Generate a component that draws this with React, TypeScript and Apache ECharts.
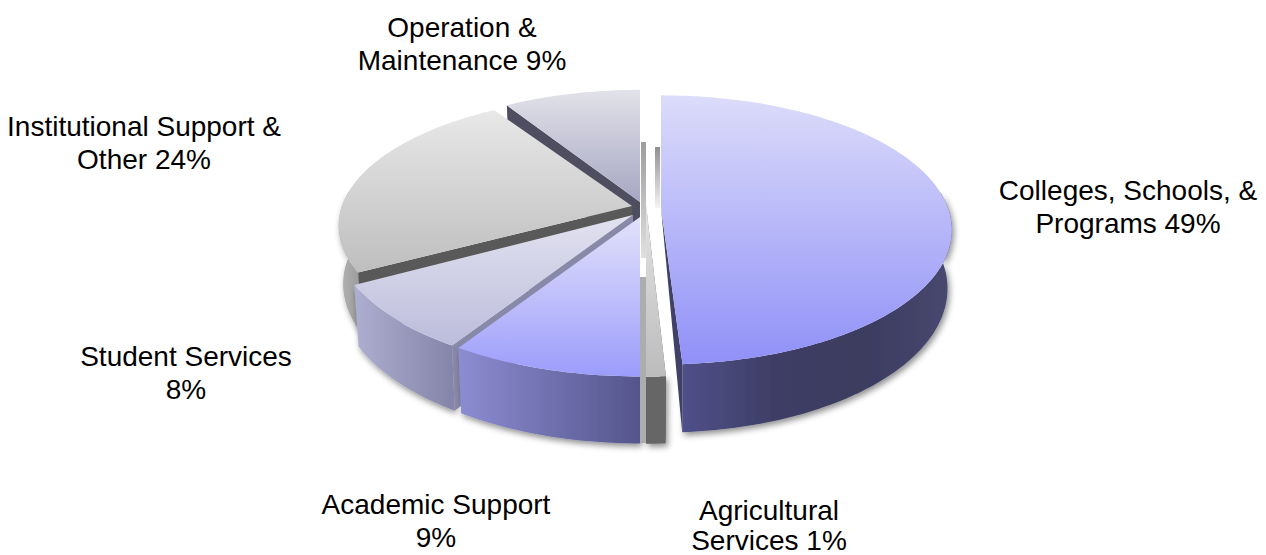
import React, { useEffect, useRef } from "react";
import * as echarts from "echarts";

// ---- data ----
const categories = [
  "Colleges, Schools, & Programs",
  "Agricultural Services",
  "Academic Support",
  "Student Services",
  "Institutional Support & Other",
  "Operation & Maintenance",
];
const percentages = [49, 1, 9, 8, 24, 9];
const labelTexts = [
  "Colleges, Schools, &\nPrograms 49%",
  "Agricultural\nServices 1%",
  "Academic Support\n9%",
  "Student Services\n8%",
  "Institutional Support &\nOther 24%",
  "Operation &\nMaintenance 9%",
];

// ---- layout & style ----
const labelX = [1128, 769, 436, 186, 144, 462];
const labelY = [174, 495, 488, 340, 110, 11];
const labelLineHeight = [33, 30, 33, 33, 33, 33];

const grad = (horizontal: boolean, ...colors: string[]) => ({
  type: "linear",
  x: 0,
  y: 0,
  x2: horizontal ? 1 : 0,
  y2: horizontal ? 0 : 1,
  colorStops: colors.map((color, i) => ({ offset: i / (colors.length - 1), color })),
});

const geometry = [
  { ax: 661, ay: 208, R: 287, Ry: 131, k: 0.163, D: 57, order: 5, top: grad(false, "#dcdcfa", "#9090f8"), wall: grad(true, "#50508a", "#3e3e66", "#3c3c60", "#484870"), radial: "#404068", radialAt: 1, apexDrop: 0 },
  { ax: 646, ay: 205, R: 270, Ry: 146, k: 0.15, D: 57, order: 4, top: grad(false, "#e4e4e4", "#bcbcbc"), wall: "#666666", radial: "#666666", radialAt: 0, apexDrop: 0 },
  { ax: 640, ay: 217, R: 296, Ry: 135.5, k: 0.15, D: 57, order: 3, top: grad(false, "#e2e2fa", "#9c9cfc"), wall: grad(true, "#8c8cd2", "#55558c"), radial: "#8080a8", radialAt: 0, apexDrop: 0 },
  { ax: 633, ay: 215, R: 295, Ry: 135, k: 0.15, D: 57, order: 2, top: grad(false, "#e2e2f0", "#bcbcdc"), wall: grad(true, "#aeaed0", "#8484a8"), radial: "#8888a8", radialAt: 0, apexDrop: 1 },
  { ax: 632, ay: 206, R: 290, Ry: 128, k: 0.15, D: 57, order: 1, top: grad(false, "#e8e8e8", "#bebebe"), wall: grad(true, "#b4b4b4", "#999999"), radial: "#595959", radialAt: 0, apexDrop: 1 },
  { ax: 640, ay: 202, R: 280, Ry: 129, k: 0.15, D: 57, order: 0, top: grad(false, "#e2e2ea", "#a6a6c2"), wall: "#9a9ab4", radial: "#4e4e60", radialAt: 0, apexDrop: 1 },
];
// Thin ghost walls seen through the explosion gap
const strips = [
  { slice: 5, dx: 1, width: 5, from: -60, to: 56, fill: grad(false, "#9c9c9c", "#e0e0e0") },
  { slice: 1, dx: -6, width: 6, from: 72, to: 238, fill: "#adadad" },
  { slice: 0, dx: -6, width: 5, from: -61, to: 0, fill: grad(false, "#909090", "#f4f4f4") },
];

function renderSlice(params: any, api: any) {
  const i = params.dataIndex;
  const g = geometry[i];
  const total = percentages.reduce((a, b) => a + b, 0);
  const before = percentages.slice(0, i).reduce((a, b) => a + b, 0);
  const start = (before / total) * 2 * Math.PI;
  const end = ((before + api.value(0)) / total) * 2 * Math.PI;

  const rim = (t: number, z: number) => {
    const v = -Math.cos(t);
    const w = 1 - g.k * v;
    const xs = z ? 0.985 : 1;
    return [g.ax + (g.R * xs * Math.sin(t)) / w, g.ay + (g.Ry * v) / w + (z * g.D) / w];
  };
  const sample = (a: number, b: number, z: number) => {
    const steps = Math.max(4, Math.ceil((b - a) / 0.02));
    return Array.from({ length: steps + 1 }, (_, s) => rim(a + ((b - a) * s) / steps, z));
  };

  const z2 = g.order * 10;
  const children: any[] = [];

  // Visible part of the outer wall: only where the rim faces the viewer
  const halfTurn = Math.PI / 2 - 0.12;
  const wallStart = Math.max(start, halfTurn);
  const wallEnd = Math.min(end, 2 * Math.PI - halfTurn);
  if (wallEnd > wallStart) {
    children.push({
      type: "polygon",
      z2,
      shape: { points: [...sample(wallStart, wallEnd, 0), ...sample(wallStart, wallEnd, 1).reverse()] },
      style: { fill: g.wall, shadowBlur: 6, shadowColor: "rgba(0,0,0,0.45)", shadowOffsetX: 2, shadowOffsetY: 3 },
    });
  }
  // radial cut wall
  const edge = g.radialAt ? end : start;
  children.push({
    type: "polygon",
    z2: z2 + 1,
    shape: {
      points: [
        [g.ax, g.ay],
        rim(edge, 0),
        rim(edge, 1),
        [g.ax, g.ay + g.D * g.apexDrop],
      ],
    },
    style: { fill: g.radial },
  });
  // top face
  children.push({
    type: "polygon",
    z2: z2 + 2,
    shape: { points: [[g.ax, g.ay], ...sample(start, end, 0)] },
    style: { fill: g.top },
  });
  // strips belonging to this slice
  strips
    .filter((s) => s.slice === i)
    .forEach((s) => {
      children.push({
        type: "rect",
        z2: z2 + 3,
        shape: { x: g.ax + s.dx, y: g.ay + s.from, width: s.width, height: s.to - s.from },
        style: { fill: s.fill },
      });
    });
  return { type: "group", children };
}

export default function App() {
  const ref = useRef<HTMLDivElement>(null);
  useEffect(() => {
    const chart = echarts.init(ref.current!, null, { renderer: "svg" });
    chart.setOption({
      animation: false,
      backgroundColor: "#ffffff",
      series: [
        {
          type: "custom",
          coordinateSystem: "none",
          silent: true,
          name: "Expenditures",
          data: percentages.map((value, i) => ({ name: categories[i], value })),
          renderItem: renderSlice,
        },
      ],
      graphic: labelTexts.map((text, i) => ({
        type: "text",
        x: labelX[i],
        y: labelY[i],
        z: 10,
        style: {
          text,
          fill: "#000000",
          font: '28px "Liberation Sans", Arial, sans-serif',
          lineHeight: labelLineHeight[i],
          textAlign: "center",
          textVerticalAlign: "top",
        },
      })),
    });
    return () => chart.dispose();
  }, []);
  return <div ref={ref} style={{ position: "absolute", left: 0, top: 0, width: 1266, height: 555 }} />;
}
